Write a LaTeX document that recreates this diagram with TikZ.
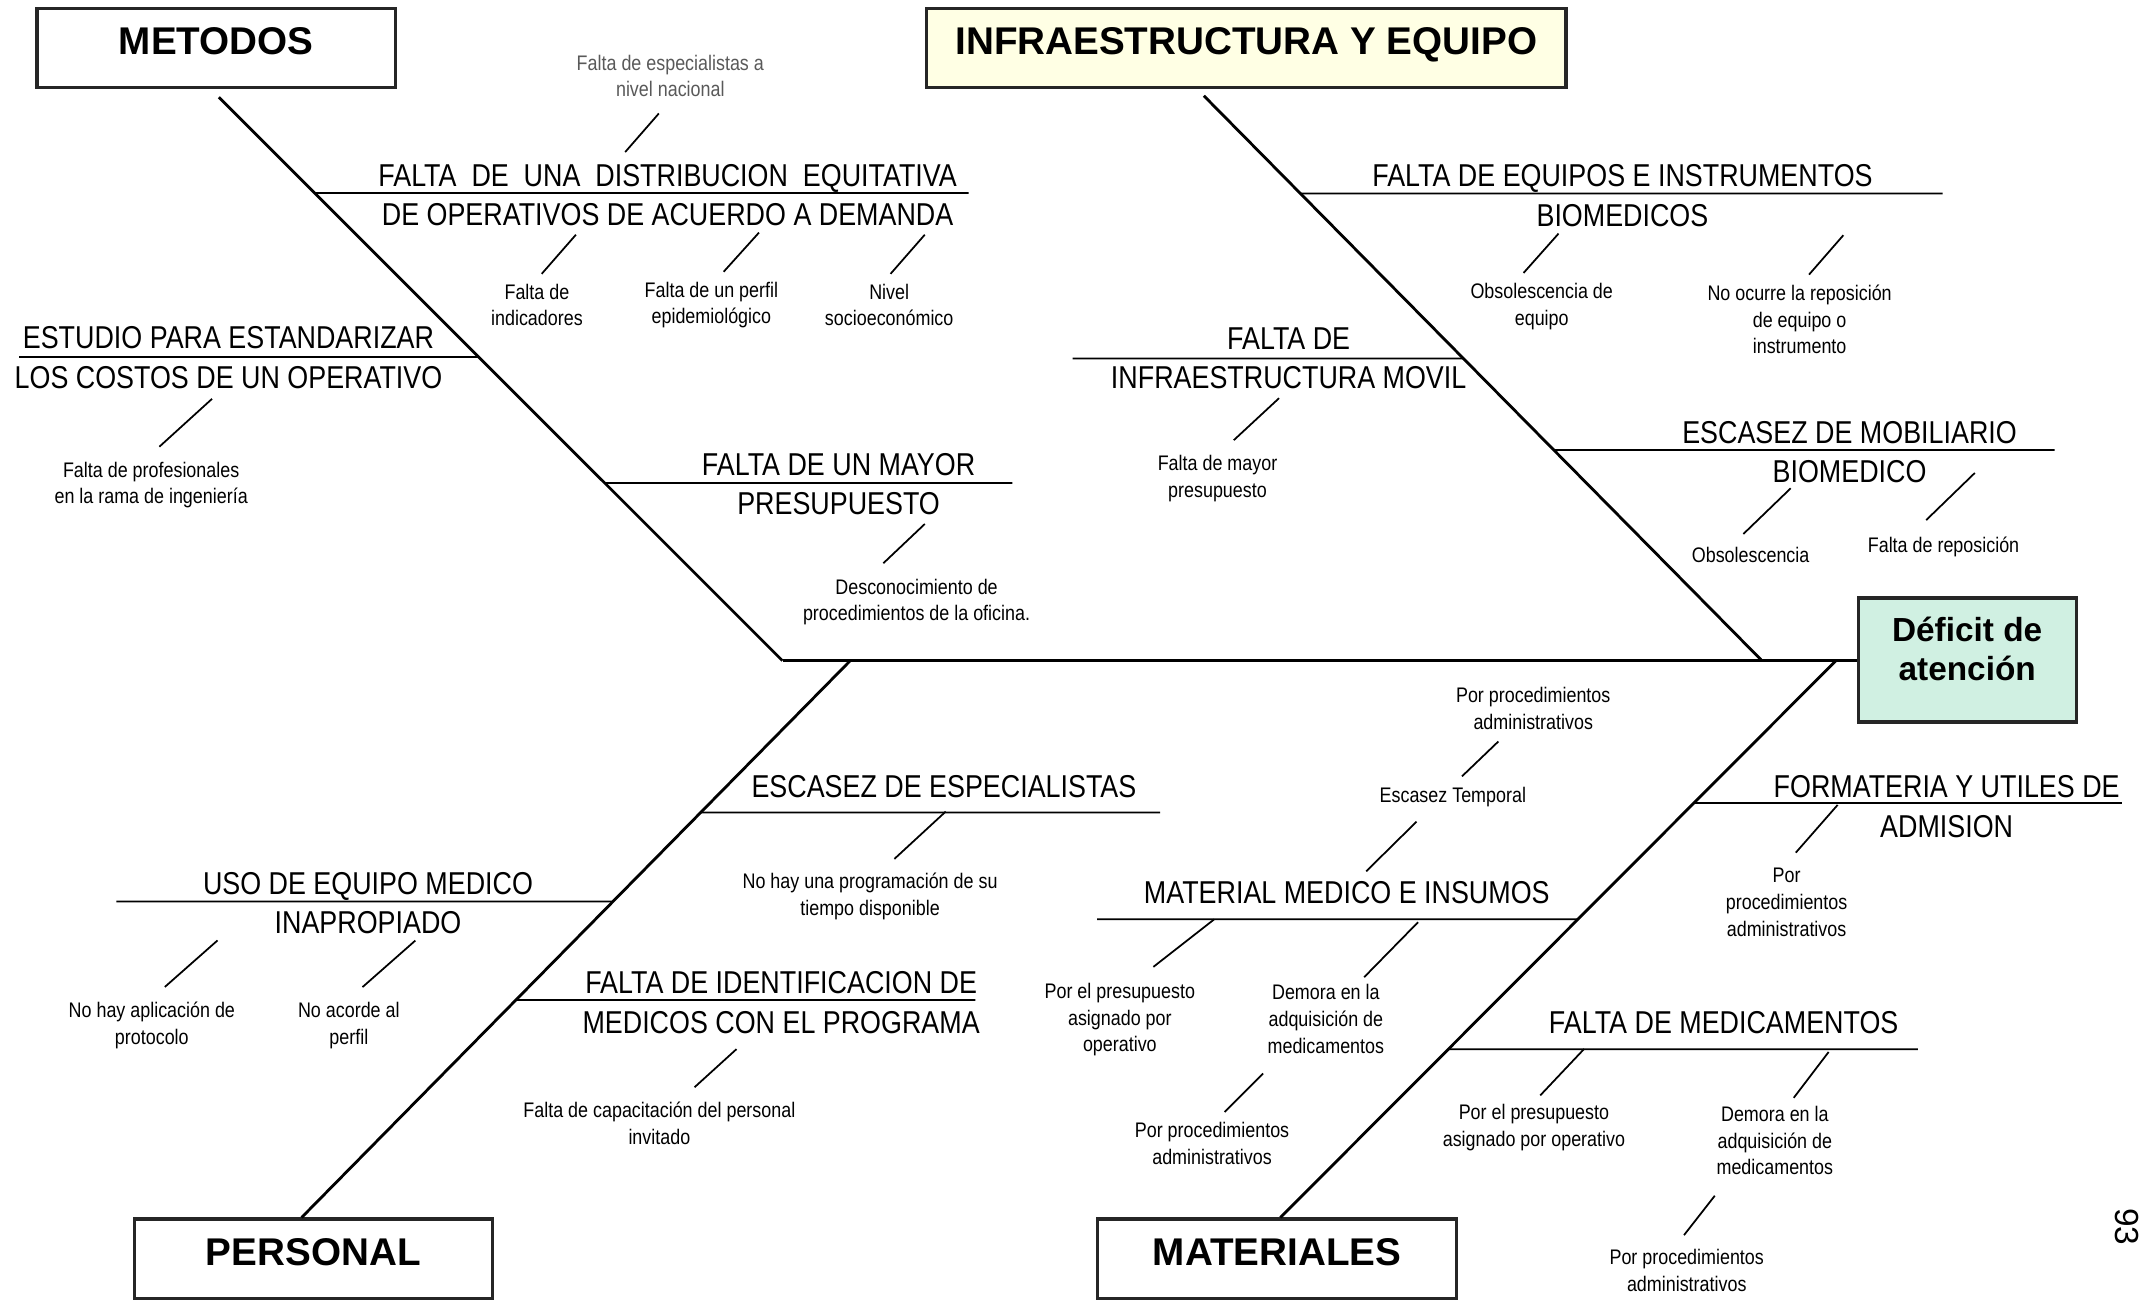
\documentclass[tikz,border=0pt]{standalone}
\usepackage{fontspec}
\setmainfont{Liberation Sans}
\newfontfamily\etroite{Liberation Sans}[FakeStretch=0.85]
\usepackage{tikz}
\usetikzlibrary{positioning, calc}
\definecolor{creme}{RGB}{255,255,228}
\definecolor{menthe}{RGB}{208,240,226}

\begin{document}
\begin{tikzpicture}[x=0.01368cm, y=-0.01368cm,
    caja/.style={draw=black!85, line width=0.9pt, minimum width=102pt, minimum height=22.5pt,
      text depth=3.9pt, font=\bfseries\fontsize{11}{13}\selectfont},
    hueso/.style={line width=0.8pt},
    rama/.style={line width=0.5pt},
    causa/.style={font=\etroite\fontsize{9}{11.25}\selectfont, align=center, inner sep=0pt},
    sub/.style={font=\etroite\fontsize{6}{7.6}\selectfont, align=center, inner sep=0pt},
    raya/.style={line width=0.5pt}]
  \useasboundingbox (0,0) rectangle (1568,950);

  % Diagramme d'Ishikawa : catégories et effet
  \node[caja] (metodos) at (158,35) {METODOS};
  \node[caja, fill=creme, minimum width=182pt] (infra) at (911,35) {INFRAESTRUCTURA Y EQUIPO};
  \node[caja] (personal) at (229,920) {PERSONAL};
  \node[caja] (materiales) at (933.5,920) {MATERIALES};
  \node[caja, fill=menthe, minimum width=62pt, minimum height=35.3pt, text depth=6.5pt,
    font=\bfseries\fontsize{9.5}{11.3}\selectfont, align=center] (efecto) at (1438,482.5) {Déficit de\\atención};

  % Arêtes principales
  \coordinate (cola) at (572,483);
  \coordinate (m0) at ([shift={(2,6)}]metodos.south);
  \coordinate (i0) at (880,70);
  \coordinate (i1) at (1288,483);
  \coordinate (p0) at (621.5,483);
  \coordinate (p1) at ([shift={(-8.5,0)}]personal.north);
  \coordinate (t0) at (1342,483);
  \coordinate (t1) at ([shift={(2.5,0)}]materiales.north);
  \draw[hueso] (cola) -- (efecto.west |- cola);
  \draw[hueso] (m0) -- (cola);
  \draw[hueso] (i0) -- (i1);
  \draw[hueso] (p0) -- (p1);
  \draw[hueso] (t0) -- (t1);

  % Branches
  \foreach \y/\xe in {141/708, 261/14, 353/740}
    \draw[rama] (intersection of m0--cola and 0,\y--1,\y) -- (\xe,\y);
  \foreach \y/\xe in {141.5/1420, 262/784, 329/1502}
    \draw[rama] (intersection of i0--i1 and 0,\y--1,\y) -- (\xe,\y);
  \foreach \y/\xe in {594/848, 659/85, 731/713}
    \draw[rama] (intersection of p0--p1 and 0,\y--1,\y) -- (\xe,\y);
  \foreach \y/\xe in {587/1551, 672/802, 767/1402}
    \draw[rama] (intersection of t0--t1 and 0,\y--1,\y) -- (\xe,\y);

  % Causes
  \node[causa] (distrib) at (488,142.5) {FALTA\ \ DE\ \ UNA\ \ DISTRIBUCION\ \ EQUITATIVA\\DE OPERATIVOS DE ACUERDO A DEMANDA};
  \node[causa] (estudio) at (167,261.5) {ESTUDIO PARA ESTANDARIZAR\\LOS COSTOS DE UN OPERATIVO};
  \node[causa] (presup) at (613,354) {FALTA DE UN MAYOR\\PRESUPUESTO};
  \node[causa] (equipos) at (1186,143) {FALTA DE EQUIPOS E INSTRUMENTOS\\BIOMEDICOS};
  \node[causa] (movil) at (942,262) {FALTA DE\\INFRAESTRUCTURA MOVIL};
  \node[causa] (mobil) at (1352,330.5) {ESCASEZ DE MOBILIARIO\\BIOMEDICO};
  \node[causa] (especial) at (690,575) {ESCASEZ DE ESPECIALISTAS};
  \node[causa] (uso) at (269,660) {USO DE EQUIPO MEDICO\\INAPROPIADO};
  \node[causa] (ident) at (571,733) {FALTA DE IDENTIFICACION DE\\MEDICOS CON EL PROGRAMA};
  \node[causa] (format) at (1423,589.5) {FORMATERIA Y UTILES DE\\ADMISION};
  \node[causa] (insumos) at (984.5,652.5) {MATERIAL MEDICO E INSUMOS};
  \node[causa] (medic) at (1260,747.3) {FALTA DE MEDICAMENTOS};

  % Sous-causes
  \node[sub, text=black!65] (nacional) at (490,55.5) {Falta de especialistas a\\nivel nacional};
  \node[sub] (indic) at (392.5,223) {Falta de\\indicadores};
  \node[sub] (perfil) at (520,223) {Falta de un perfil\\epidemiológico};
  \node[sub] (nivel) at (650,223) {Nivel\\socioeconómico};
  \node[sub] (profes) at (110.5,354.5) {Falta de profesionales\\en la rama de ingeniería};
  \node[sub] (descon) at (670,440) {Desconocimiento de\\procedimientos de la oficina.};
  \node[sub] (obseq) at (1127,224) {Obsolescencia de\\equipo};
  \node[sub] (reposeq) at (1315.5,233.5) {No ocurre la reposición\\de equipo o\\instrumento};
  \node[sub] (mayor) at (890,350) {Falta de mayor\\presupuesto};
  \node[sub] (obsol) at (1279.7,406) {Obsolescencia};
  \node[sub] (repos) at (1420.7,400) {Falta de reposición};
  \node[sub] (program) at (636,655.5) {No hay una programación de su\\tiempo disponible};
  \node[sub] (protoc) at (111,749.8) {No hay aplicación de\\protocolo};
  \node[sub] (acorde) at (255,749.8) {No acorde al\\perfil};
  \node[sub] (capac) at (482,821.3) {Falta de capacitación del personal\\invitado};
  \node[sub] (porproc) at (1306,659.5) {Por\\procedimientos\\administrativos};
  \node[sub] (proctemp) at (1120.8,517.7) {Por procedimientos\\administrativos};
  \node[sub] (temporal) at (1062,582.8) {Escasez Temporal};
  \node[sub] (presmm) at (818.6,745.5) {Por el presupuesto\\asignado por\\operativo};
  \node[sub] (demmm) at (969.2,745) {Demora en la\\adquisición de\\medicamentos};
  \node[sub] (procmm) at (886,836) {Por procedimientos\\administrativos};
  \node[sub] (presfm) at (1121.3,824.2) {Por el presupuesto\\asignado por operativo};
  \node[sub] (demfm) at (1297.4,833.7) {Demora en la\\adquisición de\\medicamentos};
  \node[sub] (procfm) at (1233,928.9) {Por procedimientos\\administrativos};

  % Petits traits obliques
  \foreach \n/\dx/\dy/\a/\b in {indic/3.5/-6.9/25/-28.6, perfil/9/-6.9/25.8/-28.6,
      nivel/1/-6.9/25/-28.6, profes/6/-10.5/38.5/-35, descon/-24.3/-10.8/30.3/-28.7,
      obseq/-13.3/-7/25.6/-28.8, reposeq/6.9/-7/25.1/-28.8, mayor/11.9/-10.8/33.1/-30.7,
      obsol/-5.3/-9.5/34.6/-33.4, repos/-12.7/-12/35.6/-34.5, program/17.8/-10.1/37.5/-34.6,
      protoc/9.5/-10.8/38.5/-34, acorde/10/-10.8/38.6/-34, capac/25.7/-10.5/30.7/-27.9,
      porproc/6.7/-10.8/30.6/-34.9, temporal/6.7/-7.6/26.6/-25.5, insumos/14.2/-6.9/36.8/-36.3,
      presmm/24.5/-11.5/44.4/-34.7, demmm/28/-5/39.4/-40.2, procmm/9.2/-7.2/28.1/-28.2,
      presfm/4.6/-6/32.1/-34, demfm/13.8/-5.5/25.5/-33.5, procfm/-2/-10.1/22.5/-28.8,
      distrib/-31/-8.2/24.6/-28.2}
    \draw[raya] ([shift={(\dx,\dy)}]\n.north) -- ++(\a,\b);

  % Numéro de page
  \node[rotate=-90, font=\fontsize{9.5}{11}\selectfont] (pagina) at (1554.6,896.7) {93};
\end{tikzpicture}
\end{document}
